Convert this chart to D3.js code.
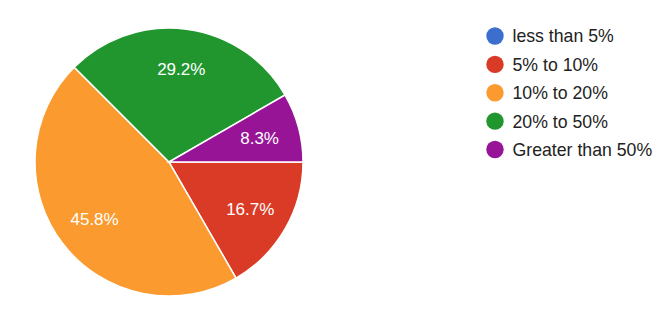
<!DOCTYPE html>
<html>
  <head>
    <meta charset="utf-8">
    <script src="https://d3js.org/d3.v7.min.js"></script>
    <style>
      body { margin: 0; background: #fff; font-family: "Liberation Sans", Arial, sans-serif; }
      .slice { stroke: #fff; stroke-width: 1.5px; }
      .pielabel { fill: #fff; font-size: 17px; }
      .legend text { fill: #222; font-size: 17.7px; }
    </style>
  </head>
  <body>
    <div id="chart"></div>
    <script>
      var categories = ["less than 5%", "5% to 10%", "10% to 20%", "20% to 50%", "Greater than 50%"];
      var counts = [0, 4, 11, 7, 2];
      var colors = ["#3c6fcd", "#da3b26", "#fb9a2e", "#21962f", "#981497"];

      var width = 669, height = 316;
      var cx = 169, cy = 162, r = 134;

      var svg = d3.select("#chart").append("svg")
        .attr("width", width)
        .attr("height", height);

      var total = d3.sum(counts);
      var data = categories.map(function(c, i) { return {name: c, value: counts[i], color: colors[i]}; });

      // google style: first slice starts at 3 o'clock, clockwise
      var pie = d3.pie().sort(null).value(function(d) { return d.value; })
        .startAngle(Math.PI / 2).endAngle(Math.PI / 2 + 2 * Math.PI);
      var arcs = pie(data);

      var arc = d3.arc().innerRadius(0).outerRadius(r);
      var labelArc = d3.arc().innerRadius(r * 0.7).outerRadius(r * 0.7);

      var g = svg.append("g").attr("transform", "translate(" + cx + "," + cy + ")");

      g.selectAll("path.slice")
        .data(arcs.filter(function(d) { return d.value > 0; }))
        .enter().append("path")
        .attr("class", "slice")
        .attr("d", arc)
        .attr("fill", function(d) { return d.data.color; });

      g.selectAll("text.pielabel")
        .data(arcs.filter(function(d) { return d.value > 0; }))
        .enter().append("text")
        .attr("class", "pielabel")
        .attr("transform", function(d) { return "translate(" + labelArc.centroid(d) + ")"; })
        .attr("text-anchor", "middle")
        .attr("dy", "0.36em")
        .text(function(d) { return (d.value / total * 100).toFixed(1) + "%"; });

      var legendY = d3.scalePoint().domain(categories).range([36, 149.5]);

      var legend = svg.append("g").attr("class", "legend")
        .selectAll("g").data(data).enter().append("g")
        .attr("transform", function(d) { return "translate(495," + legendY(d.name) + ")"; });

      legend.append("circle").attr("r", 8.7).attr("fill", function(d) { return d.color; });
      legend.append("text").attr("x", 17.5).attr("dy", "0.36em").text(function(d) { return d.name; });
    </script>
  </body>
</html>
